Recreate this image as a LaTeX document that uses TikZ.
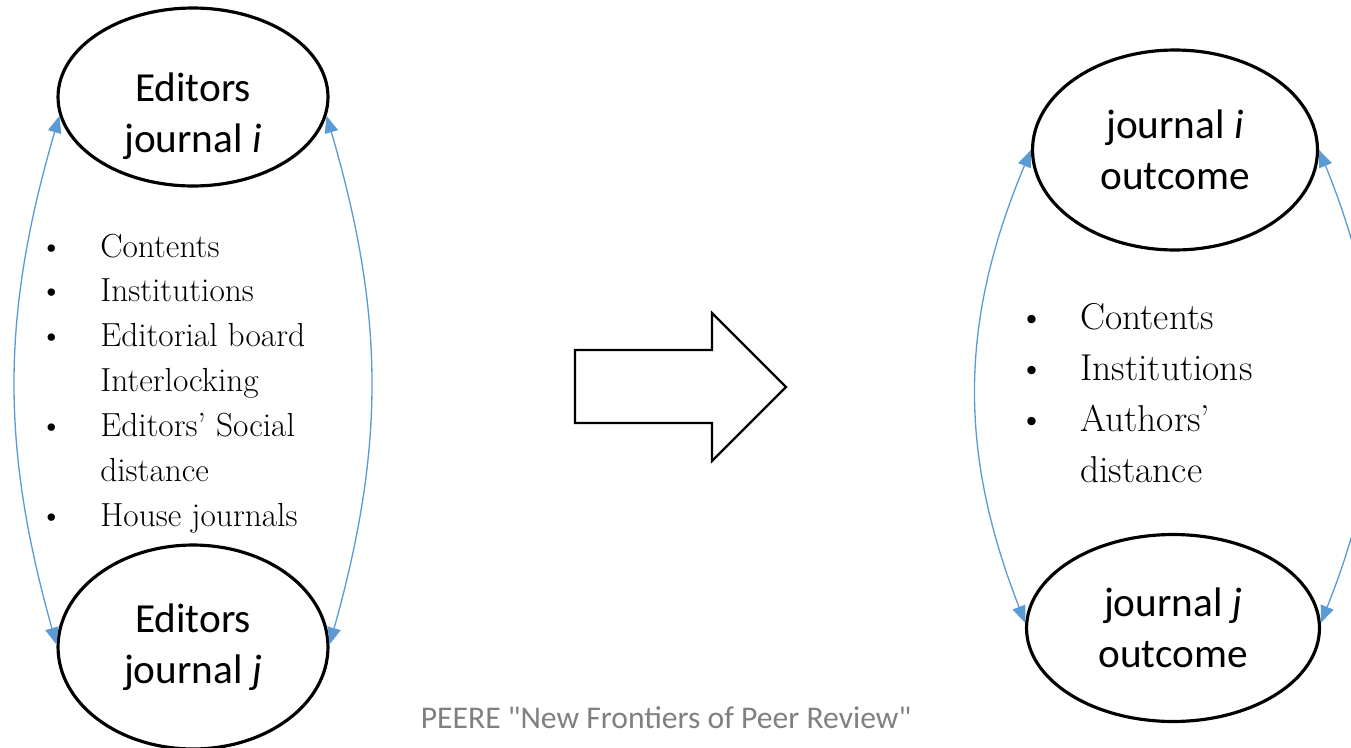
\documentclass[tikz,border=0pt]{standalone}
\usepackage{fontspec}
\newfontfamily\calib{Carlito}
\usetikzlibrary{arrows.meta,positioning,shapes.geometric}
\definecolor{linkblue}{HTML}{5B9BD5}
\definecolor{footgray}{HTML}{808080}

\begin{document}
\begin{tikzpicture}[x=0.02cm,y=-0.02cm,
  bubble/.style={ellipse,draw,line width=1.8pt,inner sep=0pt,align=center,
    font=\calib\fontsize{23.5}{29}\selectfont},
  link/.style={{Triangle[length=0.34cm,width=0.27cm]}-{Triangle[length=0.34cm,width=0.27cm]},
    draw=linkblue,line width=0.75pt},
  leftlist/.style={anchor=base west,inner sep=0pt,align=left,
    font=\fontsize{19}{25.5}\selectfont},
  rightlist/.style={anchor=base west,inner sep=0pt,align=left,
    font=\fontsize{21.3}{28.9}\selectfont}]
\useasboundingbox (0,0) rectangle (1351,747);
% Editors of the two journals
\node[bubble,minimum width=5.4cm,minimum height=3.56cm,text height=67pt] (edi) at (193,97) {Editors\\journal \textit{i}};
\node[bubble,minimum width=5.4cm,minimum height=4.08cm] (edj) at (193,647) {Editors\\journal \textit{j}};
% Outcomes of the two journals
\node[bubble,minimum width=5.7cm,minimum height=4cm] (outi) at (1175,150) {journal \textit{i}\\outcome};
\node[bubble,minimum width=5.86cm,minimum height=3.74cm] (outj) at (1173,628) {journal \textit{j}\\outcome};
% Links between the pairs
\draw[link] (edi.188) to[bend right=16] (edj.179);
\draw[link] (edi.352) to[bend left=16] (edj.1);
\draw[link] (outi.180) to[bend right=22] (outj.178);
\draw[link] (outi.0) to[bend left=22] (outj.2);
% Factors (base = last line)
\node[leftlist] (edfactors) at (39,526) {%
  \makebox[1.22cm][l]{\textbullet}Contents\\
  \makebox[1.22cm][l]{\textbullet}Institutions\\
  \makebox[1.22cm][l]{\textbullet}Editorial board\\
  \makebox[1.22cm][l]{}Interlocking\\
  \makebox[1.22cm][l]{\textbullet}Editors’ Social\\
  \makebox[1.22cm][l]{}distance\\
  \makebox[1.22cm][l]{\textbullet}House journals};
\node[rightlist] (outfactors) at (1018,482) {%
  \makebox[1.24cm][l]{\textbullet}Contents\\
  \makebox[1.24cm][l]{\textbullet}Institutions\\
  \makebox[1.24cm][l]{\textbullet}Authors’\\
  \makebox[1.24cm][l]{}distance};
% Big arrow
\draw[line width=1.3pt,line join=miter]
  (575,350) -- (712,350) -- (712,313) -- (786,387) -- (712,461) -- (712,423) -- (575,423) -- cycle;
% Footer
\node[font=\calib\fontsize{18}{22}\selectfont,text=footgray] (footer) at (666,718)
  {PEERE "New Frontiers of Peer Review"};
\end{tikzpicture}
\end{document}
